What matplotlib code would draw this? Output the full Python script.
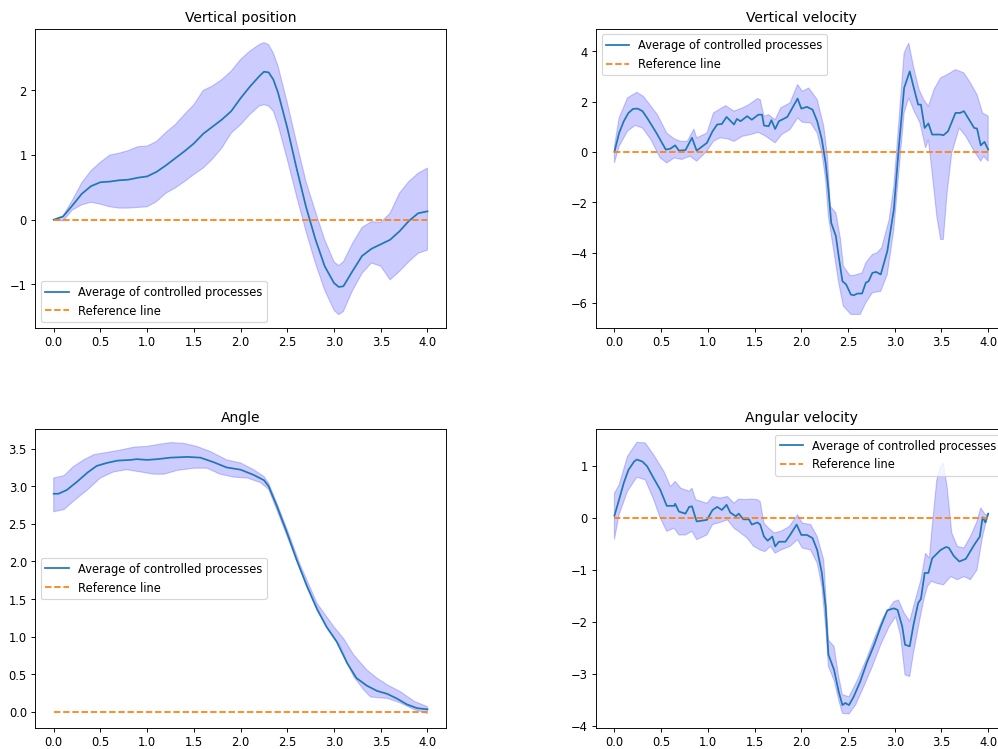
import numpy as np
from matplotlib import pyplot as plt

# Vertical position (shared time grid)
t_pos = [0, 0.1, 0.2, 0.3, 0.4, 0.5, 0.6, 0.7, 0.8, 0.9, 1.0, 1.1, 1.2, 1.3,
         1.4, 1.5, 1.6, 1.7, 1.8, 1.9, 2.0, 2.1, 2.2, 2.25, 2.3, 2.35, 2.4,
         2.5, 2.6, 2.7, 2.8, 2.9, 3.0, 3.05, 3.1, 3.2, 3.3, 3.4, 3.5, 3.6,
         3.7, 3.8, 3.9, 4.0]
pos_mean = [0, 0.05, 0.22, 0.40, 0.52, 0.58, 0.59, 0.61, 0.62, 0.65, 0.67,
            0.74, 0.84, 0.95, 1.06, 1.18, 1.33, 1.44, 1.55, 1.68, 1.88, 2.06,
            2.22, 2.29, 2.28, 2.17, 1.97, 1.42, 0.79, 0.2, -0.3, -0.72, -0.98,
            -1.04, -1.03, -0.79, -0.56, -0.45, -0.38, -0.31, -0.18, -0.02,
            0.1, 0.13]
pos_hi = [0, 0.06, 0.30, 0.57, 0.76, 0.89, 1.0, 1.03, 1.07, 1.13, 1.14, 1.21,
          1.35, 1.47, 1.63, 1.78, 2.0, 2.07, 2.17, 2.3, 2.48, 2.61, 2.71,
          2.74, 2.71, 2.58, 2.38, 1.81, 1.19, 0.59, 0.13, -0.31, -0.65,
          -0.71, -0.65, -0.36, -0.12, -0.03, -0.04, 0.1, 0.41, 0.59, 0.72,
          0.8]
pos_lo = [0, -0.02, 0.15, 0.23, 0.27, 0.24, 0.2, 0.18, 0.18, 0.19, 0.2, 0.28,
          0.41, 0.49, 0.59, 0.7, 0.8, 0.94, 1.11, 1.34, 1.47, 1.63, 1.76,
          1.78, 1.76, 1.68, 1.47, 0.93, 0.36, -0.18, -0.67, -1.09, -1.4,
          -1.47, -1.42, -1.09, -0.83, -0.67, -0.72, -0.93, -0.8, -0.65,
          -0.52, -0.47]

# Vertical velocity
t_vel = [0, 0.05, 0.1, 0.15, 0.2, 0.25, 0.3, 0.35, 0.4, 0.45, 0.5, 0.55, 0.6,
         0.65, 0.69, 0.76, 0.83, 0.88, 0.99, 1.05, 1.1, 1.15, 1.2, 1.28,
         1.31, 1.35, 1.42, 1.47, 1.54, 1.58, 1.6, 1.65, 1.68, 1.72, 1.76,
         1.85, 1.96, 2.0, 2.06, 2.12, 2.17, 2.22, 2.26, 2.29, 2.32, 2.37,
         2.4, 2.44, 2.48, 2.53, 2.56, 2.6, 2.65, 2.69, 2.72, 2.76, 2.8, 2.85,
         2.92, 2.99, 3.04, 3.1, 3.16, 3.2, 3.25, 3.28, 3.32, 3.36, 3.4, 3.49,
         3.52, 3.57, 3.65, 3.7, 3.74, 3.85, 3.88, 3.92, 3.96, 4.0]
vel_mean = [0.0, 0.75, 1.22, 1.55, 1.71, 1.72, 1.62, 1.35, 1.05, 0.75, 0.42,
            0.09, 0.13, 0.26, 0.05, 0.07, 0.56, 0.05, 0.36, 0.82, 1.09, 1.11,
            1.39, 1.09, 1.31, 1.22, 1.42, 1.28, 1.48, 1.48, 1.05, 1.02, 1.26,
            0.91, 1.22, 1.39, 2.12, 1.72, 1.79, 1.68, 1.22, 0.49, -0.44,
            -1.5, -2.82, -3.35, -4.15, -5.14, -5.27, -5.67, -5.70, -5.63,
            -5.63, -5.2, -5.14, -4.81, -4.77, -4.87, -3.95, -2.29, 0.03,
            2.54, 3.2, 2.6, 1.88, 1.88, 0.95, 1.13, 0.69, 0.69, 0.66, 0.82,
            1.55, 1.55, 1.62, 0.95, 0.93, 0.26, 0.4, 0.09]
t_vel_hi = [0, 0.05, 0.14, 0.24, 0.31, 0.46, 0.56, 0.64, 0.71, 0.78, 0.85,
            0.88, 0.99, 1.06, 1.19, 1.28, 1.37, 1.44, 1.53, 1.56, 1.6, 1.65,
            1.72, 1.78, 1.88, 1.96, 2.01, 2.08, 2.17, 2.24, 2.28, 2.31, 2.37,
            2.42, 2.45, 2.52, 2.56, 2.65, 2.69, 2.76, 2.81, 2.86, 2.94, 2.99,
            3.04, 3.1, 3.15, 3.2, 3.26, 3.31, 3.36, 3.42, 3.49, 3.56, 3.65,
            3.74, 3.81, 3.88, 3.94, 4.0]
vel_hi = [0.22, 1.35, 2.15, 2.37, 2.21, 1.48, 0.75, 0.52, 0.42, 0.42, 0.91,
          0.56, 0.75, 1.55, 1.84, 1.62, 1.75, 1.88, 2.12, 2.08, 1.42, 1.48,
          1.28, 1.75, 1.95, 2.68, 2.41, 2.54, 2.08, 1.02, -0.17, -2.16,
          -2.42, -3.48, -4.54, -4.91, -4.91, -4.81, -4.41, -4.08, -4.01,
          -3.81, -2.69, -1.36, 1.02, 3.93, 4.33, 3.4, 2.48, 2.08, 1.81, 2.48,
          2.94, 3.07, 3.27, 3.14, 2.74, 2.28, 1.55, 1.42]
t_vel_lo = [0, 0.05, 0.14, 0.22, 0.3, 0.39, 0.49, 0.56, 0.64, 0.72, 0.81,
            0.88, 0.99, 1.06, 1.13, 1.21, 1.28, 1.37, 1.46, 1.54, 1.62, 1.72,
            1.79, 1.88, 1.96, 2.01, 2.1, 2.17, 2.22, 2.26, 2.29, 2.35, 2.4,
            2.45, 2.53, 2.63, 2.69, 2.76, 2.85, 2.92, 2.99, 3.04, 3.1, 3.15,
            3.2, 3.27, 3.33, 3.36, 3.4, 3.45, 3.49, 3.52, 3.56, 3.61, 3.69,
            3.76, 3.85, 3.92, 3.95, 4.0]
vel_lo = [-0.44, 0.22, 0.82, 1.05, 0.95, 0.49, -0.24, -0.44, -0.24, -0.3,
          -0.17, -0.37, 0.03, 0.42, 0.56, 0.52, 0.42, 0.62, 0.69, 0.78, 0.62,
          0.36, 0.69, 0.89, 1.35, 1.18, 1.15, 0.75, -0.04, -1.1, -2.56,
          -4.01, -5.2, -6.13, -6.46, -6.46, -6.0, -5.6, -5.54, -4.87, -3.09,
          -0.97, 1.55, 2.15, 1.68, 1.15, 0.16, 0.49, -0.83, -2.56, -3.48,
          -3.48, -1.63, -0.04, 0.95, 0.62, 0.03, -0.37, -0.17, -0.37]

# Angle
t_ang = [0, 0.05, 0.14, 0.25, 0.36, 0.46, 0.57, 0.68, 0.82, 0.89, 1.0, 1.11,
         1.25, 1.43, 1.57, 1.71, 1.85, 2.0, 2.14, 2.25, 2.3, 2.39, 2.5, 2.6,
         2.71, 2.82, 2.92, 3.03, 3.14, 3.24, 3.35, 3.46, 3.57, 3.67, 3.78,
         3.89, 4.0]
ang_mean = [2.9, 2.9, 2.95, 3.06, 3.18, 3.27, 3.31, 3.34, 3.35, 3.36, 3.35,
            3.36, 3.38, 3.39, 3.38, 3.32, 3.25, 3.22, 3.15, 3.08, 3.0, 2.73,
            2.37, 2.02, 1.67, 1.36, 1.13, 0.93, 0.65, 0.45, 0.35, 0.28, 0.24,
            0.18, 0.1, 0.05, 0.035]
t_ang_hi = [0, 0.11, 0.21, 0.32, 0.43, 0.57, 0.71, 0.86, 1.0, 1.14, 1.25,
            1.39, 1.53, 1.68, 1.85, 2.0, 2.14, 2.25, 2.3, 2.39, 2.5, 2.64,
            2.82, 3.0, 3.1, 3.21, 3.35, 3.46, 3.57, 3.71, 3.86, 4.0]
ang_hi = [3.11, 3.14, 3.26, 3.35, 3.42, 3.45, 3.48, 3.52, 3.53, 3.56, 3.58,
          3.57, 3.53, 3.46, 3.35, 3.31, 3.22, 3.13, 3.04, 2.77, 2.42, 1.95,
          1.44, 1.13, 0.98, 0.76, 0.56, 0.45, 0.36, 0.27, 0.14, 0.07]
t_ang_lo = [0, 0.11, 0.21, 0.36, 0.5, 0.64, 0.78, 0.93, 1.07, 1.18, 1.32,
            1.5, 1.64, 1.78, 1.93, 2.07, 2.21, 2.3, 2.39, 2.5, 2.64, 2.78,
            2.92, 3.07, 3.14, 3.21, 3.32, 3.39, 3.46, 3.57, 3.71, 3.86, 4.0]
ang_lo = [2.66, 2.69, 2.8, 2.95, 3.11, 3.19, 3.22, 3.19, 3.16, 3.16, 3.21,
          3.24, 3.24, 3.16, 3.12, 3.11, 3.05, 2.96, 2.68, 2.33, 1.89, 1.49,
          1.13, 0.87, 0.65, 0.47, 0.29, 0.2, 0.19, 0.18, 0.12, 0.03, -0.02]

# Angular velocity
t_avel = [0, 0.05, 0.1, 0.15, 0.21, 0.24, 0.3, 0.35, 0.42, 0.49, 0.56, 0.64,
          0.65, 0.69, 0.76, 0.8, 0.83, 0.88, 0.99, 1.05, 1.1, 1.15, 1.2,
          1.24, 1.3, 1.33, 1.38, 1.44, 1.47, 1.53, 1.56, 1.6, 1.64, 1.69,
          1.72, 1.76, 1.83, 1.88, 1.95, 2.0, 2.06, 2.12, 2.17, 2.22, 2.26,
          2.29, 2.35, 2.4, 2.44, 2.47, 2.51, 2.56, 2.63, 2.7, 2.78, 2.85,
          2.92, 2.99, 3.03, 3.08, 3.11, 3.16, 3.2, 3.25, 3.28, 3.32, 3.36,
          3.4, 3.49, 3.55, 3.58, 3.63, 3.69, 3.76, 3.85, 3.91, 3.94, 3.97,
          4.0]
avel_mean = [0.04, 0.35, 0.67, 0.92, 1.08, 1.12, 1.08, 0.99, 0.76, 0.54,
             0.23, 0.23, 0.27, 0.12, 0.08, 0.21, 0.22, -0.07, -0.04, 0.15,
             0.21, 0.15, 0.25, 0.1, 0.03, 0.08, -0.03, -0.03, -0.13, -0.09,
             -0.13, -0.36, -0.44, -0.36, -0.55, -0.46, -0.46, -0.33, -0.13,
             -0.33, -0.33, -0.39, -0.62, -1.06, -1.71, -2.63, -2.92, -3.34,
             -3.6, -3.56, -3.6, -3.44, -3.15, -2.79, -2.44, -2.09, -1.78,
             -1.74, -1.77, -2.09, -2.44, -2.47, -2.06, -1.64, -1.56, -1.06,
             -1.06, -0.78, -0.62, -0.56, -0.58, -0.73, -0.84, -0.79, -0.52,
             -0.36, 0.01, -0.09, 0.08]
t_avel_hi = [0, 0.05, 0.14, 0.24, 0.33, 0.42, 0.53, 0.6, 0.65, 0.71, 0.8,
             0.83, 0.87, 0.99, 1.05, 1.13, 1.21, 1.28, 1.33, 1.4, 1.46, 1.53,
             1.56, 1.6, 1.65, 1.71, 1.78, 1.87, 1.96, 2.01, 2.1, 2.17, 2.24,
             2.29, 2.35, 2.4, 2.44, 2.51, 2.6, 2.7, 2.79, 2.88, 2.99, 3.04,
             3.1, 3.16, 3.2, 3.28, 3.33, 3.37, 3.4, 3.45, 3.49, 3.52, 3.56,
             3.61, 3.67, 3.74, 3.81, 3.88, 3.92, 3.97, 4.0]
avel_hi = [0.47, 0.63, 1.18, 1.45, 1.44, 1.21, 0.89, 0.6, 0.7, 0.57, 0.51,
           0.57, 0.35, 0.28, 0.41, 0.38, 0.41, 0.28, 0.36, 0.35, 0.36, 0.35,
           0.31, -0.1, -0.2, -0.29, -0.26, -0.17, 0.06, -0.1, -0.13, -0.36,
           -0.81, -2.35, -2.47, -3.05, -3.4, -3.44, -3.12, -2.7, -2.28, -1.9,
           -1.61, -1.58, -1.83, -1.99, -1.71, -1.19, -0.68, -0.78, -0.17,
           0.73, 0.99, 1.05, 0.6, -0.29, -0.55, -0.58, -0.36, -0.07, 0.19,
           0.06, 0.06]
t_avel_lo = [0, 0.05, 0.14, 0.24, 0.33, 0.42, 0.49, 0.56, 0.64, 0.69, 0.76,
             0.83, 0.88, 0.99, 1.05, 1.13, 1.21, 1.28, 1.35, 1.42, 1.49, 1.56,
             1.61, 1.67, 1.72, 1.78, 1.88, 1.96, 2.01, 2.1, 2.17, 2.22, 2.26,
             2.29, 2.35, 2.4, 2.44, 2.51, 2.58, 2.67, 2.76, 2.85, 2.94, 3.01,
             3.06, 3.11, 3.16, 3.2, 3.26, 3.31, 3.35, 3.39, 3.45, 3.52, 3.6,
             3.67, 3.74, 3.81, 3.88, 3.94, 4.0]
avel_lo = [-0.42, 0.06, 0.51, 0.78, 0.73, 0.35, 0.0, -0.26, -0.2, -0.33,
           -0.33, -0.26, -0.42, -0.33, -0.13, -0.09, -0.04, -0.2, -0.29,
           -0.39, -0.55, -0.62, -0.65, -0.55, -0.68, -0.62, -0.55, -0.42,
           -0.58, -0.62, -0.87, -1.32, -2.09, -2.86, -3.12, -3.5, -3.76,
           -3.77, -3.6, -3.24, -2.86, -2.44, -2.09, -1.9, -2.25, -3.02, -3.05,
           -2.6, -2.03, -1.58, -1.32, -1.22, -1.26, -1.29, -1.13, -1.19,
           -1.13, -1.19, -1.0, -0.36, 0.09]

t_ref = [0, 4.0]
ref_line = [0, 0]


def draw_panel(ax, title, t_mean, mean, t_hi, hi, t_lo, lo, ylim, loc):
    band_x = np.concatenate([t_hi, t_lo[::-1]])
    band_y = np.concatenate([hi, lo[::-1]])
    ax.fill(band_x, band_y, color='blue', alpha=0.2, linewidth=1)
    ax.plot(t_mean, mean, color='#1f77b4', linewidth=1.5,
            label='Average of controlled processes')
    ax.plot(t_ref, ref_line, '--', color='#ff7f0e', linewidth=1.5,
            label='Reference line')
    ax.set_xlim(-0.2, 4.2)
    ax.set_ylim(*ylim)
    ax.set_xticks([0.0, 0.5, 1.0, 1.5, 2.0, 2.5, 3.0, 3.5, 4.0])
    ax.set_title(title)
    ax.legend(loc=loc)


# original drawn at 100 dpi on 12x9 in, shown at ~83% size
DPI = 83.2
fig = plt.figure(figsize=(998.4 / DPI, 749.4 / DPI), dpi=DPI)
w, h = 411 / 998, 299 / 749
ax1 = fig.add_axes([35 / 998, 1 - 328 / 749, w, h])
ax2 = fig.add_axes([595.5 / 998, 1 - 328 / 749, w, h])
ax3 = fig.add_axes([35 / 998, 1 - 728 / 749, w, h])
ax4 = fig.add_axes([595.5 / 998, 1 - 728 / 749, w, h])

draw_panel(ax1, 'Vertical position', t_pos, pos_mean, t_pos, pos_hi,
           t_pos, pos_lo, (-1.672, 2.957), 'lower left')
draw_panel(ax2, 'Vertical velocity', t_vel, vel_mean, t_vel_hi, vel_hi,
           t_vel_lo, vel_lo, (-6.99, 4.90), 'upper left')
draw_panel(ax3, 'Angle', t_ang, ang_mean, t_ang_hi, ang_hi,
           t_ang_lo, ang_lo, (-0.213, 3.763), 'center left')
draw_panel(ax4, 'Angular velocity', t_avel, avel_mean, t_avel_hi, avel_hi,
           t_avel_lo, avel_lo, (-4.04, 1.71), 'upper right')

fig.savefig('out.png', dpi=DPI)
